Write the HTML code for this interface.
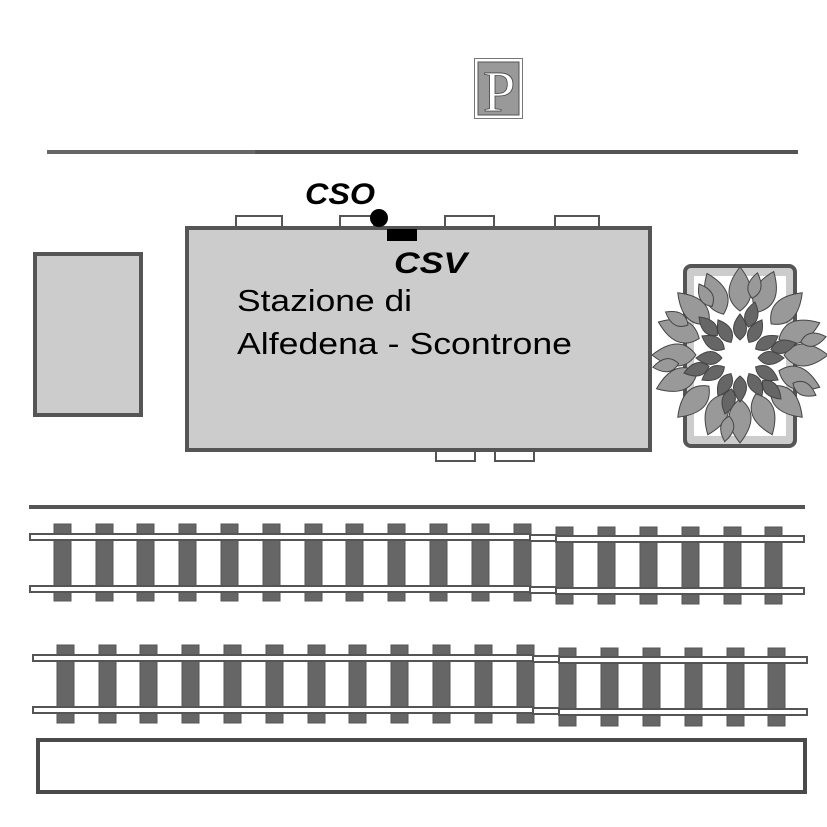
<!DOCTYPE html>
<html><head><meta charset="utf-8"><style>
html,body{margin:0;padding:0;background:#fff;}
svg{display:block;}
text{font-family:"Liberation Sans",sans-serif;}
</style></head><body>
<svg width="827" height="827" viewBox="0 0 827 827" xmlns="http://www.w3.org/2000/svg">
<defs>
<path id="lf" d="M0,0 Q22,-16 0,-44 Q-22,-16 0,0Z"/>
<path id="ls" d="M0,0 Q13,-10 0,-26 Q-13,-10 0,0Z"/>
</defs>
<rect width="827" height="827" fill="#fff"/>
<!-- Parking sign -->
<rect x="474.5" y="58.5" width="48" height="60" fill="#fff" stroke="#777" stroke-width="1"/>
<rect x="478" y="62" width="41" height="53" fill="#999" stroke="#555" stroke-width="1"/>
<text x="483" y="111" style="font-family:'Liberation Serif',serif" font-size="58" fill="#fff" stroke="#444" stroke-width="0.8">P</text>
<!-- top line -->
<line x1="47" y1="152" x2="256" y2="152" stroke="#666" stroke-width="4"/>
<line x1="255" y1="152" x2="798" y2="152" stroke="#555" stroke-width="4"/>
<!-- windows -->
<g fill="#fff" stroke="#555" stroke-width="2">
<rect x="236" y="216" width="46" height="11"/>
<rect x="340" y="216" width="34" height="11"/>
<rect x="445" y="216" width="49" height="11"/>
<rect x="555" y="216" width="44" height="11"/>
<rect x="436" y="450" width="39" height="11"/>
<rect x="495" y="450" width="39" height="11"/>
</g>
<!-- building -->
<rect x="187" y="228" width="463" height="222" fill="#ccc" stroke="#555" stroke-width="4"/>
<circle cx="379" cy="218" r="9" fill="#000"/>
<rect x="387" y="229" width="30" height="12" fill="#000"/>
<text x="305" y="204" font-size="30" font-style="italic" font-weight="bold" fill="#000" textLength="70" lengthAdjust="spacingAndGlyphs">CSO</text>
<text x="394" y="273" font-size="30" font-style="italic" font-weight="bold" fill="#000" textLength="73" lengthAdjust="spacingAndGlyphs">CSV</text>
<text x="237" y="311" font-size="31" fill="#000" textLength="175" lengthAdjust="spacingAndGlyphs">Stazione di</text>
<text x="237" y="354" font-size="31" fill="#000" textLength="335" lengthAdjust="spacingAndGlyphs">Alfedena - Scontrone</text>
<!-- left box -->
<rect x="35" y="254" width="106" height="161" fill="#ccc" stroke="#555" stroke-width="4"/>
<!-- planter -->
<rect x="685" y="266" width="110" height="180" rx="6" fill="#ccc" stroke="#555" stroke-width="4"/>
<rect x="694" y="276" width="92" height="160" fill="#fff"/>
<g stroke="#444" stroke-width="1" fill="#999">
<g transform="translate(740,355)">
<use href="#lf" transform="rotate(0) translate(0,-44)"/>
<use href="#lf" transform="rotate(22) translate(0,-46)"/>
<use href="#lf" transform="rotate(45) translate(0,-44)"/>
<use href="#lf" transform="rotate(68) translate(0,-42)"/>
<use href="#lf" transform="rotate(90) translate(0,-44)"/>
<use href="#lf" transform="rotate(112) translate(0,-42)"/>
<use href="#lf" transform="rotate(135) translate(0,-44)"/>
<use href="#lf" transform="rotate(158) translate(0,-42)"/>
<use href="#lf" transform="rotate(180) translate(0,-44)"/>
<use href="#lf" transform="rotate(202) translate(0,-42)"/>
<use href="#lf" transform="rotate(225) translate(0,-44)"/>
<use href="#lf" transform="rotate(248) translate(0,-46)"/>
<use href="#lf" transform="rotate(270) translate(0,-44)"/>
<use href="#lf" transform="rotate(292) translate(0,-44)"/>
<use href="#lf" transform="rotate(315) translate(0,-44)"/>
<use href="#lf" transform="rotate(338) translate(0,-44)"/>
<use href="#ls" transform="rotate(12) translate(0,-58)"/>
<use href="#ls" transform="rotate(78) translate(0,-62)"/>
<use href="#ls" transform="rotate(118) translate(0,-60)"/>
<use href="#ls" transform="rotate(190) translate(0,-62)"/>
<use href="#ls" transform="rotate(262) translate(0,-62)"/>
<use href="#ls" transform="rotate(300) translate(0,-60)"/>
<use href="#ls" transform="rotate(330) translate(0,-56)"/>
</g>
<g transform="translate(740,358)" fill="#666">
<use href="#ls" transform="rotate(0) translate(0,-18)"/>
<use href="#ls" transform="rotate(30) translate(0,-18)"/>
<use href="#ls" transform="rotate(60) translate(0,-18)"/>
<use href="#ls" transform="rotate(90) translate(0,-18)"/>
<use href="#ls" transform="rotate(120) translate(0,-18)"/>
<use href="#ls" transform="rotate(150) translate(0,-18)"/>
<use href="#ls" transform="rotate(180) translate(0,-18)"/>
<use href="#ls" transform="rotate(210) translate(0,-18)"/>
<use href="#ls" transform="rotate(240) translate(0,-18)"/>
<use href="#ls" transform="rotate(270) translate(0,-18)"/>
<use href="#ls" transform="rotate(300) translate(0,-18)"/>
<use href="#ls" transform="rotate(330) translate(0,-18)"/>
<use href="#ls" transform="rotate(15) translate(0,-32)"/>
<use href="#ls" transform="rotate(75) translate(0,-32)"/>
<use href="#ls" transform="rotate(135) translate(0,-32)"/>
<use href="#ls" transform="rotate(195) translate(0,-32)"/>
<use href="#ls" transform="rotate(255) translate(0,-32)"/>
<use href="#ls" transform="rotate(315) translate(0,-32)"/>
</g>
</g>
<!-- separator line -->
<line x1="29" y1="507" x2="805" y2="507" stroke="#555" stroke-width="4"/>
<!-- track 1 -->
<g fill="#666" stroke="#555" stroke-width="1">
<rect x="54" y="524" width="17" height="77"/><rect x="96" y="524" width="17" height="77"/><rect x="137" y="524" width="17" height="77"/><rect x="179" y="524" width="17" height="77"/><rect x="221" y="524" width="17" height="77"/><rect x="263" y="524" width="17" height="77"/><rect x="305" y="524" width="17" height="77"/><rect x="346" y="524" width="17" height="77"/><rect x="388" y="524" width="17" height="77"/><rect x="430" y="524" width="17" height="77"/><rect x="472" y="524" width="17" height="77"/><rect x="514" y="524" width="17" height="77"/>
<rect x="556" y="527" width="17" height="77"/><rect x="598" y="527" width="17" height="77"/><rect x="640" y="527" width="17" height="77"/><rect x="682" y="527" width="17" height="77"/><rect x="724" y="527" width="17" height="77"/><rect x="765" y="527" width="17" height="77"/>
</g>
<g fill="#fff" stroke="#555" stroke-width="2">
<rect x="30" y="534" width="500" height="6"/><rect x="30" y="586" width="500" height="6"/>
<rect x="530" y="535" width="26" height="6"/><rect x="530" y="587" width="26" height="6"/>
<rect x="556" y="536" width="248" height="6"/><rect x="556" y="588" width="248" height="6"/>
</g>
<!-- track 2 -->
<g fill="#666" stroke="#555" stroke-width="1">
<rect x="57" y="645" width="17" height="78"/><rect x="99" y="645" width="17" height="78"/><rect x="140" y="645" width="17" height="78"/><rect x="182" y="645" width="17" height="78"/><rect x="224" y="645" width="17" height="78"/><rect x="266" y="645" width="17" height="78"/><rect x="308" y="645" width="17" height="78"/><rect x="349" y="645" width="17" height="78"/><rect x="391" y="645" width="17" height="78"/><rect x="433" y="645" width="17" height="78"/><rect x="475" y="645" width="17" height="78"/><rect x="517" y="645" width="17" height="78"/>
<rect x="559" y="648" width="17" height="78"/><rect x="601" y="648" width="17" height="78"/><rect x="643" y="648" width="17" height="78"/><rect x="685" y="648" width="17" height="78"/><rect x="727" y="648" width="17" height="78"/><rect x="768" y="648" width="17" height="78"/>
</g>
<g fill="#fff" stroke="#555" stroke-width="2">
<rect x="33" y="655" width="500" height="6"/><rect x="33" y="707" width="500" height="6"/>
<rect x="533" y="656" width="26" height="6"/><rect x="533" y="708" width="26" height="6"/>
<rect x="559" y="657" width="248" height="6"/><rect x="559" y="709" width="248" height="6"/>
</g>
<!-- bottom rect -->
<rect x="38" y="740" width="767" height="52" fill="#fff" stroke="#4a4a4a" stroke-width="4"/>
</svg>
</body></html>
